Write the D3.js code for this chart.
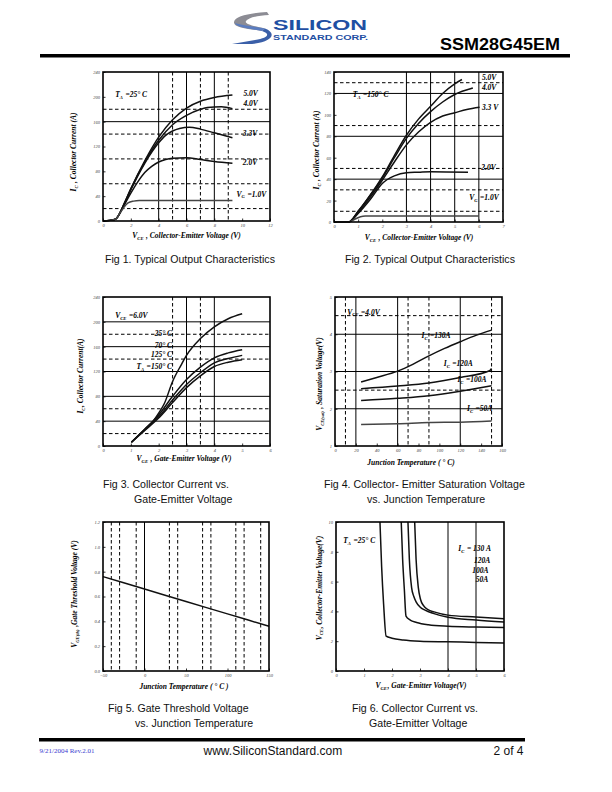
<!DOCTYPE html>
<html><head><meta charset="utf-8">
<script src="https://cdn.jsdelivr.net/npm/d3@7"></script>
<style>body{margin:0;background:#fff}svg{display:block}</style>
</head><body>
<script>
// ---------------- DATA ----------------
// Fig 1  (VCE [V], IC [A]) @ TA=25C
const fig1XTicks = [0, 2, 4, 6, 8, 10, 12];
const fig1YTicks = [0, 40, 80, 120, 160, 200, 240];
const fig1GridXSolid = [4, 6, 8];
const fig1GridXDash = [5, 7, 9];
const fig1GridYSolid = [160];
const fig1GridYDash = [20, 60, 100, 140, 180];
const fig1Vg50 = [[0,0],[0.5,1],[0.9,3],[1.5,27],[2,52],[3,97],[4,135],[5,163],[6,182],[7,193],[8,199],[9.3,203]];
const fig1Vg40 = [[0,0],[0.5,1],[0.9,3],[1.5,27],[2,52],[3,95],[4,130],[5,155],[6,170],[7,180],[7.5,183],[8.5,184],[9.3,181]];
const fig1Vg33 = [[0,0],[0.5,1],[0.9,3],[1.5,25],[2,50],[3,93],[4,126],[4.5,138],[5,145],[5.5,149],[6.2,151],[7,148],[8,142],[9.3,134]];
const fig1Vg20 = [[0,0],[0.5,1],[0.9,3],[1.5,25],[2,45],[2.5,63],[3,78],[3.5,88],[4,95],[4.5,99],[5,101],[6,102],[7,99],[8,96],[9.3,93]];
const fig1Vg10 = [[0,0],[0.5,1],[0.9,3],[1.2,12],[1.5,22],[1.8,29],[2.2,32],[2.6,33],[4,33],[6,33],[9.3,33]];

// Fig 2  (VCE [V], IC [A]) @ TA=150C
const fig2XTicks = [0, 1, 2, 3, 4, 5, 6, 7];
const fig2YTicks = [0, 20, 40, 60, 80, 100, 120, 140];
const fig2GridXSolid = [3, 4, 5, 6];
const fig2GridXDash = [];
const fig2GridYSolid = [40, 80, 120];
const fig2GridYDash = [10, 30, 50, 90, 130];
const fig2Vg50 = [[0,0],[0.6,0],[1,10],[1.5,25],[2,42],[2.5,62],[3,81],[3.5,96],[4,108],[4.5,120],[5,129],[5.3,133]];
const fig2Vg40 = [[0,0],[0.6,0],[1,10],[1.5,25],[2,41],[2.5,60],[3,78],[3.5,92],[4,103],[4.5,112],[5,119],[5.75,125]];
const fig2Vg33 = [[0,0],[0.6,0],[1,9],[1.5,23],[2,39],[2.5,56],[3,72],[3.5,84],[4,93],[4.5,99],[5,102],[5.5,105],[6.03,107]];
const fig2Vg20 = [[0,0],[0.6,0],[1,8],[1.5,21],[2,36],[2.5,43],[3,46],[3.5,46.5],[4,47],[5.55,46.5]];
const fig2Vg10 = [[0,0],[0.6,0],[0.9,3],[1.1,5],[1.3,5.5],[2,5.6],[6,5.6]];

// Fig 3  (VGE [V], IC [A]) @ VCE=6V
const fig3XTicks = [0, 1, 2, 3, 4, 5, 6];
const fig3YTicks = [0, 40, 80, 120, 160, 200, 240];
const fig3GridXSolid = [3, 4];
const fig3GridXDash = [2.5, 3.5];
const fig3GridYSolid = [40, 80, 120, 160, 200];
const fig3GridYDash = [20, 60, 140, 180];
const fig3T25 = [[1.02,6],[1.5,27],[1.8,40],[2,53],[2.2,68],[2.5,104],[2.8,130],[3,146],[3.5,173],[4,192],[4.5,205],[5,213]];
const fig3T70 = [[1.02,6],[1.5,27],[2,50],[2.5,80],[3,107],[3.5,127],[4,142],[4.5,150],[5,155]];
const fig3T125 = [[1.02,6],[1.5,26],[2,47],[2.5,74],[3,99],[3.5,118],[4,134],[4.5,141],[5,146]];
const fig3T150 = [[1.02,6],[1.5,25],[2,45],[2.5,70],[3,94],[3.5,113],[4,128],[4.5,135],[5,139]];

// Fig 4  (Tj [C], VCE(sat) [V]) @ VGE=4V
const fig4XTicks = [0, 20, 40, 60, 80, 100, 120, 140, 160];
const fig4YTicks = [1, 2, 3, 4, 5];
const fig4GridXSolid = [20, 60, 120];
const fig4GridXDash = [10, 70, 90, 150];
const fig4GridYSolid = [2, 3, 4];
const fig4GridYDash = [2.5, 4.5];
const fig4Ic130 = [[25,2.72],[40,2.84],[60,3.01],[75,3.2],[90,3.42],[105,3.62],[120,3.8],[135,3.97],[150,4.11]];
const fig4Ic120 = [[25,2.54],[60,2.61],[90,2.69],[120,2.84],[148,3.02],[150,3.08]];
const fig4Ic100 = [[25,2.22],[60,2.28],[90,2.35],[120,2.47],[150,2.62]];
const fig4Ic50 = [[25,1.58],[60,1.6],[90,1.63],[120,1.64],[150,1.67]];

// Fig 5  (Tj [C], VGE(th) [V])
const fig5XTicks = [-50, 0, 50, 100, 150];
const fig5YTicks = [0, 0.2, 0.4, 0.6, 0.8, 1.0, 1.2];
const fig5GridXSolid = [0];
const fig5GridXDash = [-40, -30, -10, 30, 40, 70, 80, 110, 120, 140];
const fig5GridYSolid = [];
const fig5GridYDash = [];
const fig5Vth = [[-50,0.76],[0,0.66],[50,0.56],[100,0.46],[150,0.36]];

// Fig 6  (VGE [V], VCE [V]) @ TA=25C
const fig6XTicks = [0, 1, 2, 3, 4, 5, 6];
const fig6YTicks = [0, 2, 4, 6, 8, 10];
const fig6GridXSolid = [4, 5];
const fig6GridXDash = [];
const fig6GridYSolid = [];
const fig6GridYDash = [];
const fig6Ic130 = [[2.81,10],[2.86,7.5],[2.94,5.6],[3.02,4.8],[3.12,4.4],[3.3,4.1],[3.5,3.97],[4,3.75],[5,3.62],[6,3.5]];
const fig6Ic120 = [[2.57,10],[2.62,7.5],[2.7,5.6],[2.78,5.0],[2.86,4.64],[3.0,4.3],[3.18,4.08],[3.5,3.85],[4,3.6],[5,3.42],[6,3.28]];
const fig6Ic100 = [[2.33,10],[2.38,7.5],[2.44,5.5],[2.5,3.68],[2.65,3.42],[2.88,3.26],[3.3,3.1],[4,3.0],[5,2.95],[6,2.92]];
const fig6Ic50 = [[1.57,10],[1.63,7],[1.7,4.5],[1.79,2.34],[2.0,2.2],[2.4,2.08],[3,2.0],[4,1.96],[5,1.92],[6,1.88]];

// ---------------- DRAW ----------------
const svg = d3.select("body").append("svg").attr("width", 612).attr("height", 792);
const SERIF = "'Liberation Serif','Times New Roman',serif";
const SANS = "'Liberation Sans',Arial,Helvetica,sans-serif";
const LFS = 7.5;

function rich(sel, str, fs) {
  const parts = str.split(/(_\{[^}]*\})/);
  parts.forEach(p => {
    if (!p) return;
    if (p.startsWith("_{")) {
      sel.append("tspan").attr("font-size", fs * 0.62).attr("dy", fs * 0.22).text(p.slice(2, -1));
      sel.append("tspan").attr("dy", -fs * 0.22).text("\u200A");
    } else {
      sel.append("tspan").text(p);
    }
  });
  return sel;
}

function chart(c) {
  const g = svg.append("g");
  const x = d3.scaleLinear().domain(c.xDomain).range([c.box[0], c.box[2]]);
  const y = d3.scaleLinear().domain(c.yDomain).range([c.box[3], c.box[1]]);
  const grid = (vals, vertical, dashed) => g.selectAll(null).data(vals).enter().append("line")
    .attr("x1", d => vertical ? x(d) : c.box[0]).attr("x2", d => vertical ? x(d) : c.box[2])
    .attr("y1", d => vertical ? c.box[1] : y(d)).attr("y2", d => vertical ? c.box[3] : y(d))
    .attr("stroke", "#000").attr("stroke-width", 1)
    .attr("stroke-dasharray", dashed ? "3.5,2.5" : null);
  grid(c.gxs, true, false); grid(c.gxd, true, true);
  grid(c.gys, false, false); grid(c.gyd, false, true);

  const line = d3.line().x(d => x(d[0])).y(d => y(d[1])).curve(d3.curveMonotoneX);
  c.series.forEach(s => {
    g.append("path").datum(s.data).attr("d", line).attr("fill", "none")
      .attr("stroke", s.color || "#111").attr("stroke-width", 1.5);
  });

  const ax = g.append("g").attr("transform", `translate(0,${c.box[3]})`)
    .call(d3.axisBottom(x).tickValues(c.xt).tickSize(-2.5).tickPadding(2.5).tickFormat(c.xf || d3.format("d")));
  const ay = g.append("g").attr("transform", `translate(${c.box[0]},0)`)
    .call(d3.axisLeft(y).tickValues(c.yt).tickSize(-2.5).tickPadding(3).tickFormat(c.yf || d3.format("d")));
  [ax, ay].forEach(a => {
    a.select(".domain").remove();
    a.selectAll(".tick line").attr("stroke", "#000").attr("stroke-width", 0.8);
    a.selectAll(".tick text").attr("font-family", SERIF).attr("font-style", "italic")
      .attr("font-size", 4.5).attr("fill", "#444");
  });

  g.append("rect").attr("x", c.box[0]).attr("y", c.box[1])
    .attr("width", c.box[2] - c.box[0]).attr("height", c.box[3] - c.box[1])
    .attr("fill", "none").attr("stroke", "#000").attr("stroke-width", 1.6);

  const lab = (t, px, py, fs, anchor) => rich(g.append("text").attr("x", px).attr("y", py)
      .attr("font-family", SERIF).attr("font-weight", "bold").attr("font-style", "italic")
      .attr("font-size", fs).attr("text-anchor", anchor || "start").attr("fill", "#000"), t, fs);
  (c.labels || []).forEach(l => lab(l.t, x(l.x), y(l.y), LFS, l.anchor));
  lab(c.xTitle, c.xTitlePos[0], c.xTitlePos[1], LFS, "middle");
  const yt = g.append("text").attr("transform", `translate(${c.yTitlePos[0]},${c.yTitlePos[1]}) rotate(-90)`)
    .attr("font-family", SERIF).attr("font-weight", "bold").attr("font-style", "italic")
    .attr("font-size", LFS).attr("text-anchor", "middle");
  rich(yt, c.yTitle, LFS);
}

chart({box:[103,72,270,221], xDomain:[0,12], yDomain:[0,240], xt:fig1XTicks, yt:fig1YTicks,
  gxs:fig1GridXSolid, gxd:fig1GridXDash, gys:fig1GridYSolid, gyd:fig1GridYDash,
  series:[{data:fig1Vg50},{data:fig1Vg40},{data:fig1Vg33},{data:fig1Vg20},{data:fig1Vg10,color:"#444"}],
  labels:[{t:"5.0V",x:10.09,y:201},{t:"4.0V",x:10.09,y:185},{t:"3.3V",x:10.05,y:137},{t:"2.0V",x:10.05,y:90},
          {t:"V_{G} =1.0V",x:9.6,y:39},{t:"T_{A} =25° C",x:0.88,y:199}],
  xTitle:"V_{CE} , Collector-Emitter Voltage (V)", xTitlePos:[186.5,238],
  yTitle:"I_{C} , Collector Current (A)", yTitlePos:[76,152]});

chart({box:[334,72,503,222], xDomain:[0,7], yDomain:[0,140], xt:fig2XTicks, yt:fig2YTicks,
  gxs:fig2GridXSolid, gxd:fig2GridXDash, gys:fig2GridYSolid, gyd:fig2GridYDash,
  series:[{data:fig2Vg50},{data:fig2Vg40},{data:fig2Vg33},{data:fig2Vg20},{data:fig2Vg10,color:"#444"}],
  labels:[{t:"5.0V",x:6.13,y:132.9},{t:"4.0V",x:6.13,y:123},{t:"3.3 V",x:6.13,y:105},{t:"2.0V",x:6.1,y:48.4},
          {t:"V_{G} =1.0V",x:5.6,y:20.5},{t:"T_{A} =150° C",x:0.78,y:116.7}],
  xTitle:"V_{CE} , Collector-Emitter Voltage (V)", xTitlePos:[419,240],
  yTitle:"I_{C} , Collector Current (A)", yTitlePos:[319,150]});

chart({box:[103,297,270,446], xDomain:[0,6], yDomain:[0,240], xt:fig3XTicks, yt:fig3YTicks,
  gxs:fig3GridXSolid, gxd:fig3GridXDash, gys:fig3GridYSolid, gyd:fig3GridYDash,
  series:[{data:fig3T25},{data:fig3T70},{data:fig3T125},{data:fig3T150}],
  labels:[{t:"V_{CE} =6.0V",x:0.44,y:206},{t:"25° C",x:2.48,y:176.8,anchor:"end"},{t:"70° C",x:2.48,y:158,anchor:"end"},
          {t:"125° C",x:2.48,y:142.6,anchor:"end"},{t:"T_{A} =150° C",x:2.48,y:123.3,anchor:"end"}],
  xTitle:"V_{GE} , Gate-Emitter Voltage (V)", xTitlePos:[184,461],
  yTitle:"I_{C}, Collector Current(A)", yTitlePos:[83,376]});

chart({box:[335,297,502,446], xDomain:[0,160], yDomain:[1,5], xt:fig4XTicks, yt:fig4YTicks,
  gxs:fig4GridXSolid, gxd:fig4GridXDash, gys:fig4GridYSolid, gyd:fig4GridYDash,
  series:[{data:fig4Ic130},{data:fig4Ic120},{data:fig4Ic100},{data:fig4Ic50,color:"#444"}],
  labels:[{t:"V_{CE} =4.0V",x:11.8,y:4.53},{t:"I_{C} =130A",x:82.9,y:3.89},{t:"I_{C} =120A",x:104.2,y:3.14},
          {t:"I_{C} =100A",x:117.3,y:2.72},{t:"I_{C} =50A",x:126.5,y:1.94}],
  xTitle:"Junction Temperature ( ° C)", xTitlePos:[411,465],
  yTitle:"V_{CE(sat)} , Saturation Voltage(V)", yTitlePos:[322,384]});

chart({box:[103,522,269,671], xDomain:[-50,150], yDomain:[0,1.2], xt:fig5XTicks, yt:fig5YTicks,
  gxs:fig5GridXSolid, gxd:fig5GridXDash, gys:fig5GridYSolid, gyd:fig5GridYDash, yf:d3.format(".1f"),
  series:[{data:fig5Vth}], labels:[],
  xTitle:"Junction Temperature ( ° C )", xTitlePos:[184,689],
  yTitle:"V_{GE(th)} ,Gate Threshold Voltage (V)", yTitlePos:[77,594]});

chart({box:[336,522,504,671], xDomain:[0,6], yDomain:[0,10], xt:fig6XTicks, yt:fig6YTicks,
  gxs:fig6GridXSolid, gxd:fig6GridXDash, gys:fig6GridYSolid, gyd:fig6GridYDash,
  series:[{data:fig6Ic130},{data:fig6Ic120},{data:fig6Ic100},{data:fig6Ic50}],
  labels:[{t:"T_{A} =25° C",x:0.26,y:8.56},{t:"I_{C} = 130 A",x:4.37,y:8.06},{t:"120A",x:4.93,y:7.28},
          {t:"100A",x:4.87,y:6.61},{t:"50A",x:4.99,y:5.98}],
  xTitle:"V_{GE}, Gate-Emitter Voltage(V)", xTitlePos:[421,688],
  yTitle:"V_{CE}, Collector-Emitter Voltage(V)", yTitlePos:[321.5,588]});

// ---------------- CAPTIONS ----------------
const captions = [
  ["Fig 1. Typical Output Characteristics", 105, 263],
  ["Fig 2. Typical Output Characteristics", 345, 263],
  ["Fig 3. Collector Current vs.", 103, 488], ["Gate-Emitter Voltage", 134, 503],
  ["Fig 4. Collector- Emitter Saturation Voltage", 324, 488], ["vs. Junction Temperature", 367, 503],
  ["Fig 5. Gate Threshold Voltage", 108, 712], ["vs. Junction Temperature", 135, 727],
  ["Fig 6. Collector Current vs.", 352, 712], ["Gate-Emitter Voltage", 369, 727]
];
svg.selectAll(null).data(captions).enter().append("text")
  .attr("x", d => d[1]).attr("y", d => d[2]).attr("font-family", SANS).attr("font-size", 10.6)
  .attr("fill", "#111").text(d => d[0]);

// ---------------- HEADER ----------------
svg.append("rect").attr("x", 40).attr("y", 54).attr("width", 530).attr("height", 3.5).attr("fill", "#000");
svg.append("text").attr("x", 440).attr("y", 50).attr("font-family", SANS).attr("font-weight", "bold")
  .attr("font-size", 17).attr("textLength", 120).attr("lengthAdjust", "spacingAndGlyphs").text("SSM28G45EM");
const logo = svg.append("g");
logo.append("path").attr("d", "M267,12 C250,13 235,16 234,22 C233,28 250,29 262,31 L265,28.5 C254,26 244,24.5 246,21 C248,17.5 258,15.5 269,15 Z")
  .attr("fill", "#8c8c94");
logo.append("path").attr("d", "M262,31 C271,34 268,38 255,40 L232,44 L252,44 C273,42 277,33 265,28.5 Z")
  .attr("fill", "#3a5fa8");
logo.append("path").attr("d", "M235,23 C236,27 248,28.5 262,31 L265,28.5 C252,26 240,25 235,23 Z").attr("fill", "#5a7cc0");
logo.append("text").attr("x", 273).attr("y", 29.5).attr("font-family", SANS).attr("font-weight", "bold")
  .attr("font-size", 14.5).attr("fill", "#1f4fa3").attr("textLength", 94).attr("lengthAdjust", "spacingAndGlyphs").text("SILICON");
logo.append("text").attr("x", 273).attr("y", 40).attr("font-family", SANS).attr("font-weight", "bold")
  .attr("font-size", 7.3).attr("fill", "#1f4fa3").attr("textLength", 95).attr("lengthAdjust", "spacingAndGlyphs").text("STANDARD CORP.");

// ---------------- FOOTER ----------------
svg.append("rect").attr("x", 39).attr("y", 738).attr("width", 486).attr("height", 3.5).attr("fill", "#000");
svg.append("text").attr("x", 39.5).attr("y", 752.5).attr("font-family", SERIF).attr("font-size", 7)
  .attr("fill", "#3b3bd0").text("9/21/2004  Rev.2.01");
svg.append("text").attr("x", 203.5).attr("y", 755).attr("font-family", SANS).attr("font-size", 12)
  .attr("fill", "#111").text("www.SiliconStandard.com");
svg.append("text").attr("x", 493.5).attr("y", 755).attr("font-family", SANS).attr("font-size", 12)
  .attr("fill", "#111").text("2 of 4");
</script>
</body></html>
